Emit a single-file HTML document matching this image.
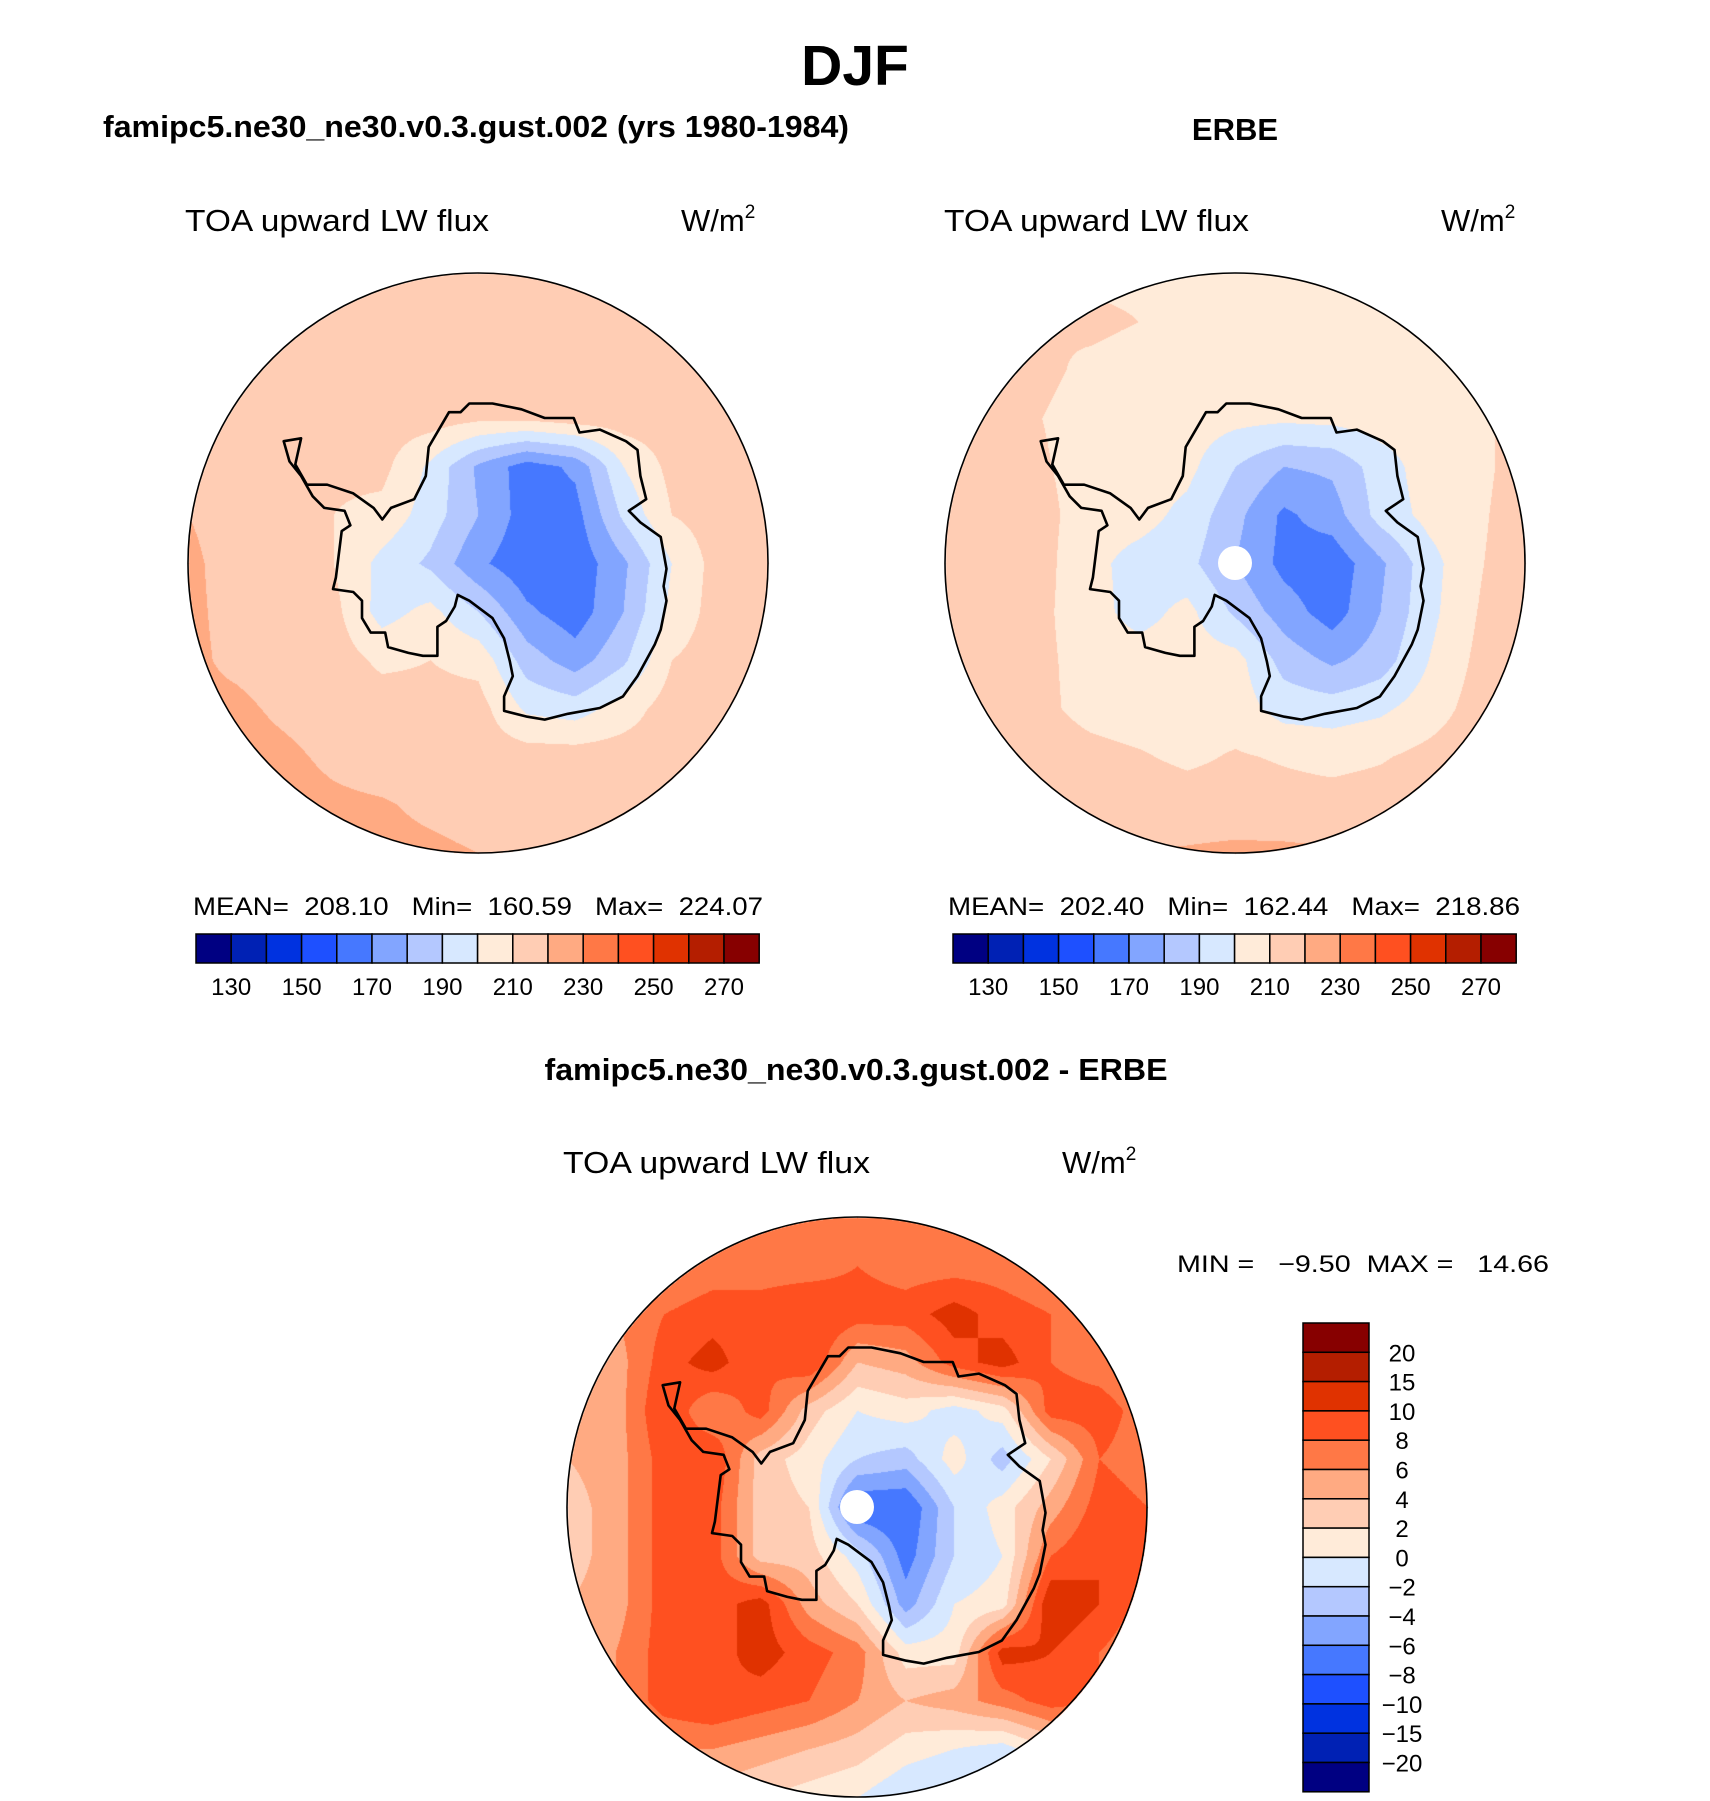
<!DOCTYPE html>
<html><head><meta charset="utf-8">
<style>
html,body{margin:0;padding:0;background:#fff;}
#wrap{position:relative;width:1710px;height:1801px;overflow:hidden;}
canvas{position:absolute;}
svg{position:absolute;left:0;top:0;}
text{font-family:"Liberation Sans",sans-serif;fill:#000;}
</style></head>
<body>
<div id="wrap">
<canvas id="cL"></canvas>
<canvas id="cR"></canvas>
<canvas id="cB"></canvas>
<svg id="svg" width="1710" height="1801" xmlns="http://www.w3.org/2000/svg">
<text x="855" y="85" text-anchor="middle" font-weight="bold" font-size="57">DJF</text>
<text x="103" y="137" font-weight="bold" font-size="31" textLength="746" lengthAdjust="spacingAndGlyphs">famipc5.ne30_ne30.v0.3.gust.002 (yrs 1980-1984)</text>
<text x="1235" y="140" text-anchor="middle" font-weight="bold" font-size="31">ERBE</text>
<text x="185" y="231" font-size="31" textLength="304" lengthAdjust="spacingAndGlyphs">TOA upward LW flux</text>
<text x="681" y="231" font-size="31">W/m<tspan dy="-13" font-size="19">2</tspan></text>
<text x="944" y="231" font-size="31" textLength="305" lengthAdjust="spacingAndGlyphs">TOA upward LW flux</text>
<text x="1441" y="231" font-size="31">W/m<tspan dy="-13" font-size="19">2</tspan></text>
<text x="193" y="915" font-size="25" textLength="570" lengthAdjust="spacingAndGlyphs" xml:space="preserve">MEAN=  208.10   Min=  160.59   Max=  224.07</text>
<text x="948" y="915" font-size="25" textLength="572" lengthAdjust="spacingAndGlyphs" xml:space="preserve">MEAN=  202.40   Min=  162.44   Max=  218.86</text>
<text x="856" y="1080" text-anchor="middle" font-weight="bold" font-size="31" textLength="623" lengthAdjust="spacingAndGlyphs">famipc5.ne30_ne30.v0.3.gust.002 - ERBE</text>
<text x="563" y="1173" font-size="31" textLength="307" lengthAdjust="spacingAndGlyphs">TOA upward LW flux</text>
<text x="1062" y="1173" font-size="31">W/m<tspan dy="-13" font-size="19">2</tspan></text>
<text x="1177" y="1272" font-size="24" textLength="372" lengthAdjust="spacingAndGlyphs" xml:space="preserve">MIN =   −9.50  MAX =   14.66</text>
<g id="gL"></g>
<g id="gR"></g>
<g id="gB"></g>
<g id="cbL"></g>
<g id="cbR"></g>
<g id="cbB"></g>
</svg>
</div>
<script>
// ---- data ----
const absColors = ["#000082","#0021b4","#0032e0","#1e50ff","#4678ff","#82a5ff","#b4c8ff","#d7e8ff","#ffebd9","#ffcdb4","#ffaa82","#ff7846","#ff5020","#e03200","#b41e00","#870000"];
const absLevels = [130,140,150,160,170,180,190,200,210,220,230,240,250,260,270];
const absTickLabels = ["130","150","170","190","210","230","250","270"];
const diffLevels = [-20,-15,-10,-8,-6,-4,-2,0,2,4,6,8,10,15,20];
const diffTickLabels = ["20","15","10","8","6","4","2","0","−2","−4","−6","−8","−10","−15","−20"];
// 13x13 grids, rows v=-1..1 (top->bottom), cols u=-1..1 (left->right)
const modelGrid = [
[215,215,215,215,215,215,215,215,215,215,215,215,215],
[215,215,215,215,215,215,215,215,215,215,215,215,215],
[218,215,215,215,215,215,215,215,215,215,215,215,215],
[220,217,215,215,215,215,212,212,215,215,215,215,215],
[220,216,214,212,213,198,178,165,172,200,213,215,215],
[220,216,215,210,207,195,180,165,166,192,210,215,215],
[222,216,215,210,197,188,172,163,163,178,200,215,215],
[222,217,215,213,196,203,190,172,164,180,203,215,215],
[222,218,215,215,208,210,207,185,175,188,210,215,215],
[222,222,218,215,215,213,214,198,195,205,215,215,215],
[225,224,222,218,215,215,215,215,215,215,215,215,215],
[225,225,224,222,221,218,216,215,215,215,215,215,215],
[225,225,225,224,223,222,220,218,215,215,215,215,215]];
const erbeGrid = [
[208,208,208,208,208,208,208,208,208,208,208,208,208],
[215,213,210,212,210,207,207,207,207,207,207,208,212],
[216,214,212,208,206,205,205,205,205,205,205,207,214],
[216,215,210,206,205,205,203,202,203,205,205,207,215],
[216,215,211,206,205,203,190,180,182,195,205,207,215],
[216,216,213,205,204,197,183,168,175,194,203,208,216],
[217,216,213,203,196,193,180,167,163,178,196,209,216],
[217,216,212,204,196,203,188,175,165,180,197,210,217],
[217,216,212,206,205,205,204,186,178,185,200,212,217],
[218,216,212,207,205,205,205,196,195,198,205,214,218],
[218,217,215,213,211,208,211,209,207,209,213,216,218],
[218,218,217,216,216,215,215,214,214,215,216,217,218],
[220,220,220,220,220,221,222,222,221,220,220,220,220]];
const diffGrid = [
[7,7,7,7,7,7,7,7,7,7,7,7,7],
[6,6,6,7,7,7,8,7,7,7,6,6,6],
[5,6,8,9,9,10,9,9,11,9,8,7,6],
[4,5,9,11,8,10,4,5,9,11,8,7,6],
[4,5,10,6,9,3,0,1,-1,1,9,9,7],
[4,5,9,10,3,1,-2,-3,1,-3,2,8,7],
[3,5,9,9,3,2,-8,-8,-2,1,5,9,8],
[3,5,9,9,3,3,-1,-7,-2,0,8,10,8],
[4,5,9,9,11,5,2,-5,0,1,12,10,7],
[5,6,9,9,11,9,7,1,1,11,10,8,6],
[5,6,9,10,9,8,6,4,5,7,9,8,6],
[5,5,6,6,5,4,3,1,0,-1,2,4,5],
[4,4,4,3,2,1,0,-2,-3,-2,0,2,4]];
// Antarctic coastline (normalized polar coords)
const coast = [[-0.67,-0.42],[-0.61,-0.43],[-0.63,-0.34],[-0.59,-0.27],[-0.52,-0.27],[-0.43,-0.24],[-0.36,-0.19],[-0.33,-0.15],[-0.30,-0.19],[-0.22,-0.22],[-0.18,-0.30],[-0.17,-0.40],[-0.10,-0.52],[-0.06,-0.52],[-0.03,-0.55],[0.05,-0.55],[0.15,-0.53],[0.23,-0.50],[0.33,-0.50],[0.35,-0.45],[0.42,-0.46],[0.51,-0.42],[0.55,-0.39],[0.56,-0.30],[0.58,-0.22],[0.52,-0.18],[0.56,-0.14],[0.63,-0.09],[0.65,0.02],[0.64,0.08],[0.65,0.13],[0.63,0.23],[0.61,0.28],[0.55,0.39],[0.50,0.46],[0.42,0.50],[0.31,0.52],[0.23,0.54],[0.17,0.53],[0.09,0.51],[0.09,0.46],[0.12,0.39],[0.11,0.34],[0.09,0.26],[0.05,0.19],[-0.03,0.13],[-0.07,0.11],[-0.08,0.15],[-0.11,0.20],[-0.14,0.22],[-0.14,0.32],[-0.19,0.32],[-0.24,0.31],[-0.31,0.29],[-0.32,0.24],[-0.37,0.24],[-0.40,0.19],[-0.40,0.13],[-0.43,0.10],[-0.50,0.09],[-0.49,0.05],[-0.48,-0.03],[-0.47,-0.11],[-0.44,-0.13],[-0.46,-0.18],[-0.53,-0.19],[-0.57,-0.23],[-0.61,-0.30],[-0.65,-0.35]];

// ---- rendering ----
const R = 290;
const maps = [
 {id:"cL", g:"gL", cx:478, cy:563, grid:modelGrid, levels:absLevels, pole:false},
 {id:"cR", g:"gR", cx:1235, cy:563, grid:erbeGrid, levels:absLevels, pole:true},
 {id:"cB", g:"gB", cx:857, cy:1507, grid:diffGrid, levels:diffLevels, pole:true}
];
function hex(c){return [parseInt(c.substr(1,2),16),parseInt(c.substr(3,2),16),parseInt(c.substr(5,2),16)];}
const rgb = absColors.map(hex);
function levelIndex(v, levels){let i=0;while(i<levels.length && v>=levels[i]) i++;return i;}
function sample(grid,u,v){
  const n=grid.length-1;
  let fx=(u+1)/2*n, fy=(v+1)/2*n;
  fx=Math.max(0,Math.min(n-1e-6,fx)); fy=Math.max(0,Math.min(n-1e-6,fy));
  const i=Math.floor(fx), j=Math.floor(fy), ax=fx-i, ay=fy-j;
  const a=grid[j][i], b=grid[j][i+1], c=grid[j+1][i], d=grid[j+1][i+1];
  return (a*(1-ax)+b*ax)*(1-ay)+(c*(1-ax)+d*ax)*ay;
}
const NS="http://www.w3.org/2000/svg";
function mk(tag, attrs, parent){const e=document.createElementNS(NS,tag);for(const k in attrs) e.setAttribute(k,attrs[k]);parent.appendChild(e);return e;}
maps.forEach(m=>{
  const cv=document.getElementById(m.id);
  const S=2*R+4;
  cv.width=S; cv.height=S;
  cv.style.left=(m.cx-R-2)+"px"; cv.style.top=(m.cy-R-2)+"px";
  const ctx=cv.getContext("2d");
  const img=ctx.createImageData(S,S);
  for(let y=0;y<S;y++){for(let x=0;x<S;x++){
    const u=(x-R-2)/R, v=(y-R-2)/R;
    const rr=u*u+v*v;
    const k=(y*S+x)*4;
    if(rr>1.0){img.data[k+3]=0;continue;}
    const val=sample(m.grid,u,v);
    const c=rgb[levelIndex(val,m.levels)];
    img.data[k]=c[0];img.data[k+1]=c[1];img.data[k+2]=c[2];img.data[k+3]=255;
  }}
  ctx.putImageData(img,0,0);
  const g=document.getElementById(m.g);
  const pts=coast.map(p=>(m.cx+p[0]*R).toFixed(1)+","+(m.cy+p[1]*R).toFixed(1)).join(" ");
  const cl=mk("polygon",{points:pts,fill:"none",stroke:"#000","stroke-width":"2.6","stroke-linejoin":"round"},g);
  
  
  if(m.pole){
    const p=mk("circle",{cx:m.cx,cy:m.cy,r:17,fill:"#fff"},g);
    
    
  }
  const o=mk("circle",{cx:m.cx,cy:m.cy,r:R,fill:"none",stroke:"#000","stroke-width":"1.6"},g);
  
  
});
// horizontal colorbars
function hbar(gid, x0){
  const g=document.getElementById(gid);
  const w=35.2, y0=934, h=29;
  absColors.forEach((c,i)=>{
    const r=mk("rect",{x:x0+i*w,y:y0,width:w,height:h,fill:c,stroke:"#000","stroke-width":"1.5"},g);
    
    
  });
  absTickLabels.forEach((t,k)=>{
    const b=1+2*k;
    const tx=mk("text",{x:x0+b*w,y:995,"text-anchor":"middle","font-size":"24"},g);
    tx.textContent=t;
    
    
  });
}
hbar("cbL",196);
hbar("cbR",953);
// vertical colorbar
(function(){
  const g=document.getElementById("cbB");
  const x0=1303, w=66, y0=1323, h=29.3, n=absColors.length;
  for(let i=0;i<n;i++){
    const r=mk("rect",{x:x0,y:y0+i*h,width:w,height:h,fill:absColors[n-1-i],stroke:"#000","stroke-width":"1.5"},g);
    
    
  }
  diffTickLabels.forEach((t,k)=>{
    const tx=mk("text",{x:1402,y:y0+(k+1)*h+9,"text-anchor":"middle","font-size":"24"},g);
    tx.textContent=t;
    
    
  });
})();
</script>
</body></html>
